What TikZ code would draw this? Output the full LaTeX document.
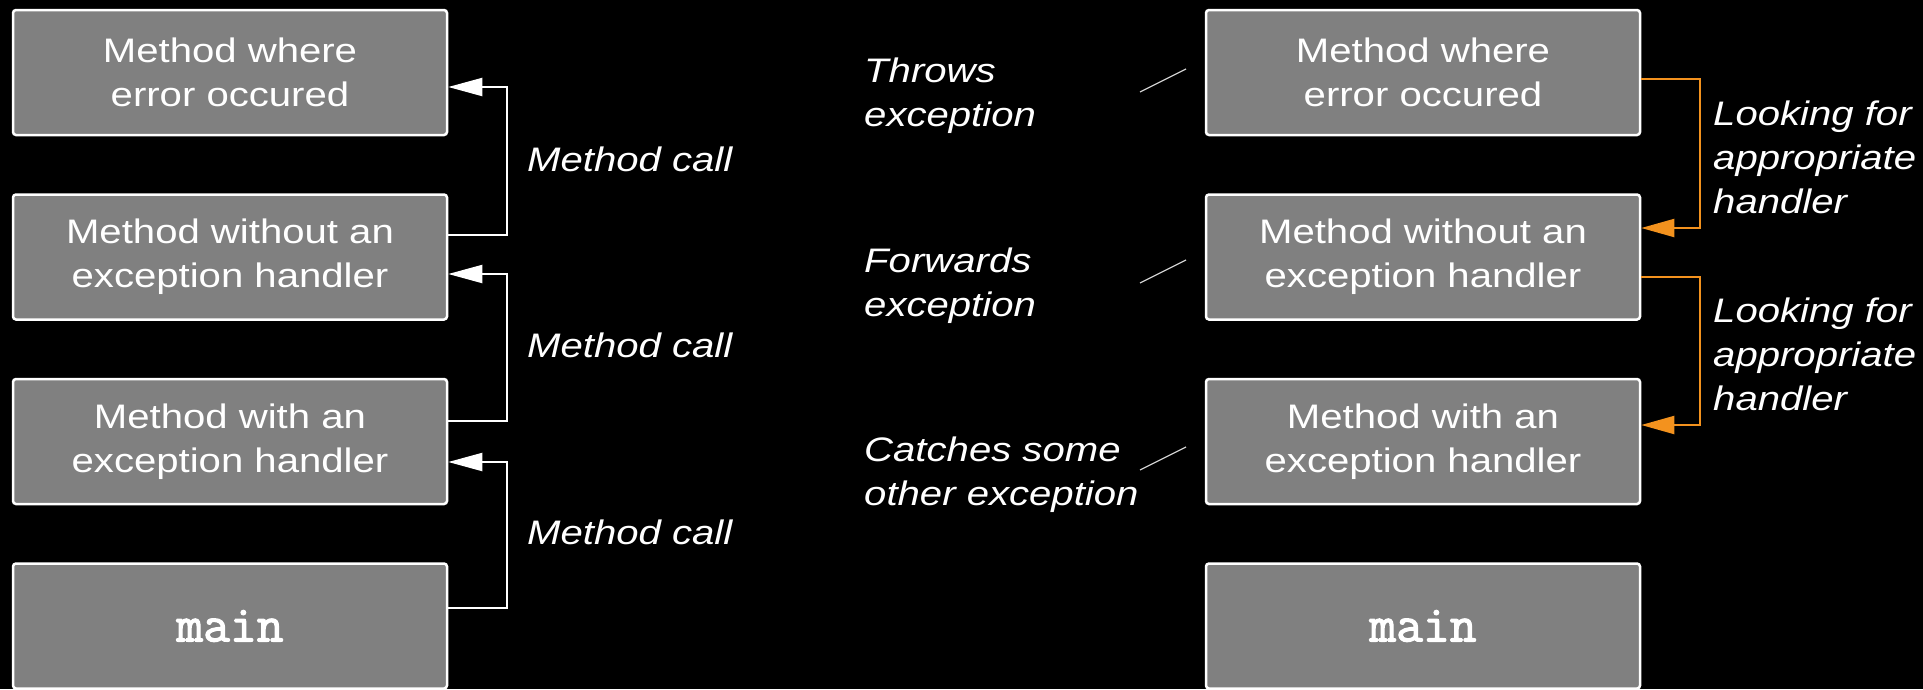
\documentclass[tikz,border=0pt]{standalone}
\usepackage{fontspec}
\setmainfont{Liberation Sans}[FakeStretch=1.18]
\newfontfamily\mainmono{Latin Modern Mono}[FakeBold=2.2]
\usetikzlibrary{arrows.meta}
\definecolor{boxgray}{RGB}{128,128,128}
\definecolor{orng}{RGB}{243,146,30}
\definecolor{slashgray}{RGB}{205,205,205}
\begin{document}
\begin{tikzpicture}[x=1pt,y=-1pt,
 box/.style={draw=white, line width=2.5pt, fill=boxgray, rounded corners=3pt,
   minimum width=434pt, minimum height=125pt, text=white, align=center,
   font=\fontsize{34}{44}\selectfont, inner sep=0pt},
 mainbox/.style={box, font=\mainmono\fontsize{52}{54}\selectfont},
 lbl/.style={text=white, align=left, anchor=west, inner sep=0pt,
   font=\fontsize{34}{44}\selectfont\itshape},
 callarrow/.style={draw=white, line width=2pt, -{Triangle[length=34pt,width=18pt]}},
 findarrow/.style={draw=orng, line width=2pt, -{Triangle[length=33pt,width=18pt]}},
 tick/.style={draw=slashgray, line width=1.3pt}]
\fill[black] (0,0) rectangle (1923,689);
\useasboundingbox (0,0) rectangle (1923,689);

% left column
\node[box] (L1) at (230,72.5) {Method where\\error occured};
\node[box] (L2) at (230,257) {Method without an\\exception handler};
\node[box] (L3) at (230,441.5) {Method with an\\exception handler};
\node[mainbox] (L4) at (230,626) {main};

% right column
\node[box] (R1) at (1423,72.5) {Method where\\error occured};
\node[box] (R2) at (1423,257) {Method without an\\exception handler};
\node[box] (R3) at (1423,441.5) {Method with an\\exception handler};
\node[mainbox] (R4) at (1423,626) {main};

% method call arrows
\draw[callarrow] (L2.east |- 0,235) -- (507,235) -- (507,87) -- (L1.east |- 0,87);
\draw[callarrow] (L3.east |- 0,421) -- (507,421) -- (507,274) -- (L2.east |- 0,274);
\draw[callarrow] (L4.east |- 0,608) -- (507,608) -- (507,462) -- (L3.east |- 0,462);

\node[lbl] (mc1) at (527,159) {Method call};
\node[lbl] (mc2) at (527,345) {Method call};
\node[lbl] (mc3) at (527,532) {Method call};

% right side labels
\node[lbl] (th) at (864,96) {Throws\\exception};
\node[lbl] (fw) at (864,286) {Forwards\\exception};
\node[lbl] (ca) at (864,475) {Catches some\\other exception};

\draw[tick] (1140,92) -- (1186,69);
\draw[tick] (1140,283) -- (1186,260);
\draw[tick] (1140,470) -- (1186,447);

% looking for handler arrows
\draw[findarrow] (R1.east |- 0,79) -- (1700,79) -- (1700,228) -- (R2.east |- 0,228);
\draw[findarrow] (R2.east |- 0,277) -- (1700,277) -- (1700,425) -- (R3.east |- 0,425);

\node[lbl] (lf1) at (1713,157) {Looking for\\appropriate\\handler};
\node[lbl] (lf2) at (1713,354) {Looking for\\appropriate\\handler};
\end{tikzpicture}
\end{document}
